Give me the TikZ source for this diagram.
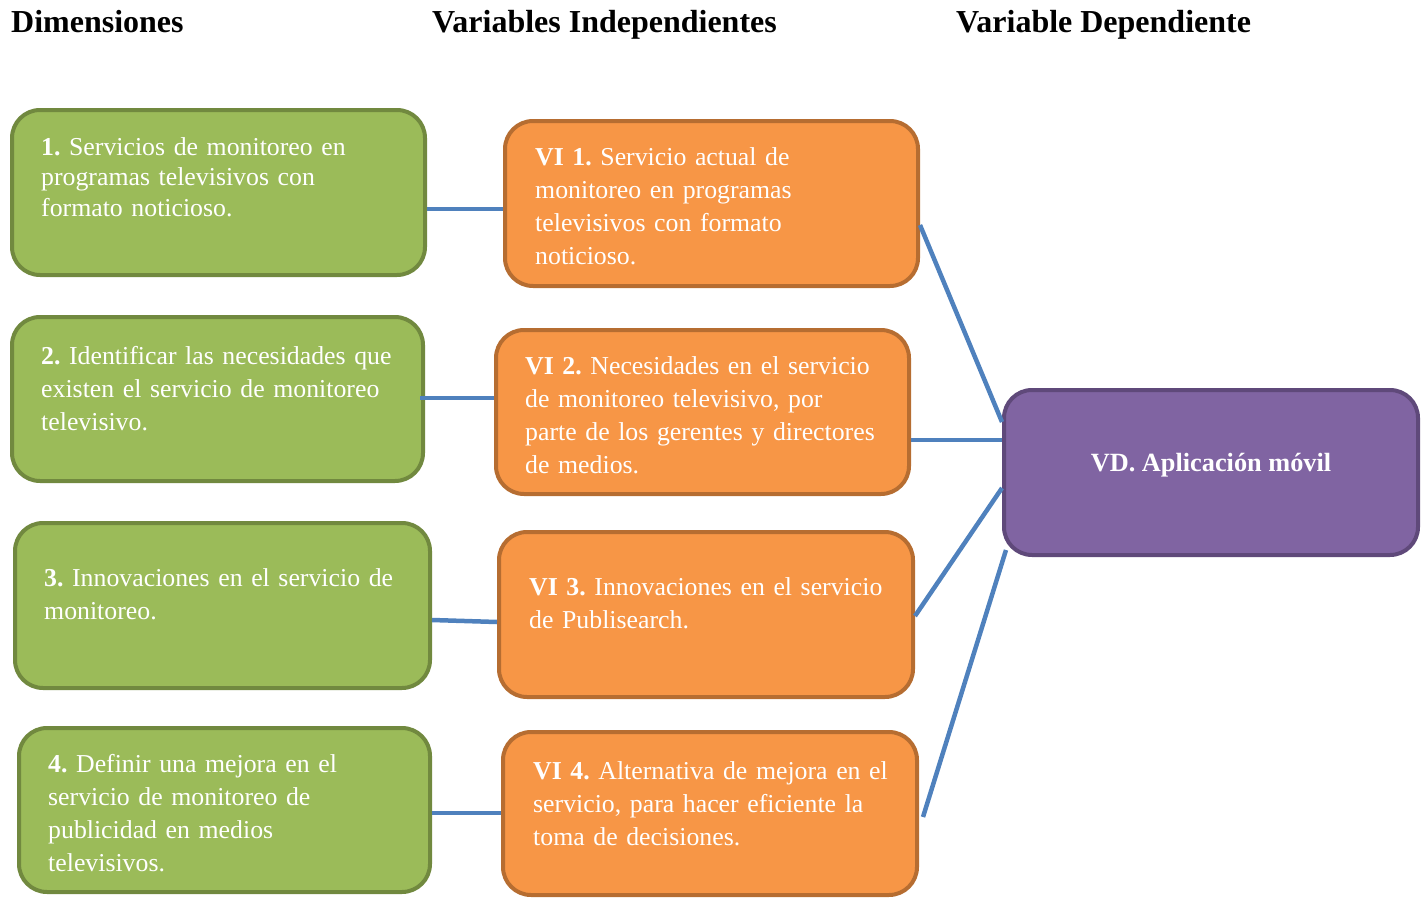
\documentclass[tikz,border=0pt]{standalone}
\usepackage{fontspec}
\setmainfont{Liberation Serif}
\usetikzlibrary{calc}
\frenchspacing
\definecolor{gfill}{HTML}{9BBB59}
\definecolor{gline}{HTML}{71893F}
\definecolor{ofill}{HTML}{F79646}
\definecolor{oline}{HTML}{B66D31}
\definecolor{pfill}{HTML}{8064A2}
\definecolor{pline}{HTML}{5F497A}
\definecolor{conn}{HTML}{4F81BD}
\begin{document}
\begin{tikzpicture}[x=1pt,y=-1pt,
  box/.style={rectangle, rounded corners=28pt, line width=4pt, inner sep=0pt},
  gbox/.style={box, fill=gfill, draw=gline},
  obox/.style={box, fill=ofill, draw=oline},
  pbox/.style={box, fill=pfill, draw=pline},
  txt/.style={text=white, anchor=north west, inner sep=0pt, align=left, text width=420pt, font=\fontsize{25.8}{33}\selectfont\frenchspacing},
  txtg/.style={txt, font=\fontsize{25.8}{30.5}\selectfont\frenchspacing},
  title/.style={anchor=base west, inner sep=0pt, font=\fontsize{32}{38}\selectfont\bfseries},
  conline/.style={draw=conn, line width=4.5pt}]
\useasboundingbox (0,0) rectangle (1422,899);
% titles
\node[title] (t1) at (11,33) {Dimensiones};
\node[title] (t2) at (432,33) {Variables Independientes};
\node[title] (t3) at (956,33) {Variable Dependiente};
% boxes
\node[gbox, minimum width=413pt, minimum height=165pt] (g1) at (218.5,192.5) {};
\node[gbox, minimum width=411pt, minimum height=164pt] (g2) at (217.5,399) {};
\node[gbox, minimum width=415pt, minimum height=165pt] (g3) at (222.5,605.5) {};
\node[gbox, minimum width=411pt, minimum height=164pt] (g4) at (224.5,810) {};
\node[obox, minimum width=413pt, minimum height=165pt] (o1) at (711.5,203.5) {};
\node[obox, minimum width=413pt, minimum height=164pt] (o2) at (702.5,412) {};
\node[obox, minimum width=414pt, minimum height=165pt] (o3) at (706,614.5) {};
\node[obox, minimum width=414pt, minimum height=163pt] (o4) at (710,813.5) {};
\node[pbox, minimum width=414pt, minimum height=165pt] (vd) at (1211,472.5) {};
% texts
\node[txtg] (g1t) at (41,133.65) {\strut\textbf{1.} Servicios de monitoreo en\\programas televisivos con\\formato noticioso.};
\node[txt] (g2t) at (41,340.9) {\strut\textbf{2.} Identificar las necesidades que\\existen el servicio de monitoreo\\televisivo.};
\node[txt] (g3t) at (44,562.9) {\strut\textbf{3.} Innovaciones en el servicio de\\monitoreo.};
\node[txt] (g4t) at (48,748.9) {\strut\textbf{4.} Definir una mejora en el\\servicio de monitoreo de\\publicidad en medios\\televisivos.};
\node[txt] (o1t) at (535,141.9) {\strut\textbf{VI 1.} Servicio actual de\\monitoreo en programas\\televisivos con formato\\noticioso.};
\node[txt] (o2t) at (525,350.9) {\strut\textbf{VI 2.} Necesidades en el servicio\\de monitoreo televisivo, por\\parte de los gerentes y directores\\de medios.};
\node[txt] (o3t) at (529,571.9) {\strut\textbf{VI 3.} Innovaciones en el servicio\\de Publisearch.};
\node[txt] (o4t) at (533,755.9) {\strut\textbf{VI 4.} Alternativa de mejora en el\\servicio, para hacer eficiente la\\toma de decisiones.};
\node[anchor=base, inner sep=0pt, text=white, font=\fontsize{26.3}{33}\selectfont\bfseries] (vdt) at (1211,471) {VD. Aplicación móvil};
% connectors
\draw[conline] (g1.east |- 0,209) -- (o1.west |- 0,209);
\draw[conline] ($(g2.east |- 0,398)+(-5,0)$) -- (o2.west |- 0,398);
\draw[conline] (g3.east |- 0,620) -- (o3.west |- 0,622);
\draw[conline] (g4.east |- 0,813) -- (o4.west |- 0,813);
\draw[conline] (o1.east |- 0,225) -- (vd.west |- 0,422);
\draw[conline] (o2.east |- 0,440) -- (vd.west |- 0,440);
\draw[conline] (o3.east |- 0,616) -- (vd.west |- 0,488);
\draw[conline] ($(o4.east |- 0,817)+(4,0)$) -- ($(vd.south west)+(4,-7)$);
\end{tikzpicture}
\end{document}
